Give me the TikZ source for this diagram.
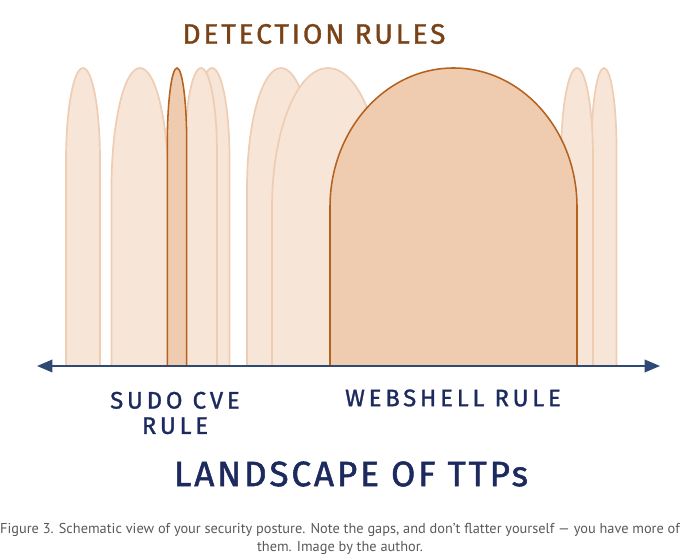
\documentclass[tikz,border=0pt]{standalone}
\usepackage{fontspec}
\setmainfont{Fira Sans}
\newfontfamily\capfont{PT Sans}
\usepackage{tikz}
\usetikzlibrary{arrows.meta}

\definecolor{ruleedge}{HTML}{EFCDB3}
\definecolor{rulefill}{HTML}{F7E5D8}
\definecolor{hitedge}{HTML}{B5621F}
\definecolor{hitfill}{HTML}{EFCCAF}
\definecolor{brownink}{HTML}{7A4217}
\definecolor{navyink}{HTML}{1C2A5E}
\definecolor{axisblue}{HTML}{2E4A74}

\begin{document}
\begin{tikzpicture}[x=0.025cm,y=0.025cm,
  rule/.style={draw=ruleedge,fill=rulefill,line width=1.2pt},
  hit rule/.style={draw=hitedge,fill=hitfill,line width=1.1pt},
  hand label/.style={text=navyink,font=\fontsize{17}{20}\selectfont\addfontfeature{LetterSpace=16,FakeBold=1.2},align=center},
  caption text/.style={text=black!65,font=\capfont\fontsize{10.2}{13.3}\selectfont,align=center}]
  \useasboundingbox (0,0) rectangle (680,560);

  % light arches (other rules)
  \draw[rule] (194.5,194) -- (194.5,402) arc[start angle=180,end angle=0,x radius=17.5,y radius=90] -- (229.5,194) -- cycle;
  \draw[rule] (66,194) -- (66,400) arc[start angle=180,end angle=0,x radius=17,y radius=92] -- (100,194) -- cycle;
  \draw[rule] (111.5,194) -- (111.5,372) arc[start angle=180,end angle=0,x radius=28.5,y radius=120] -- (168.5,194) -- cycle;
  \draw[rule] (185,194) -- (185,407) arc[start angle=180,end angle=0,x radius=16,y radius=85] -- (217,194) -- cycle;
  \draw[rule] (247,194) -- (247,372) arc[start angle=180,end angle=0,x radius=34,y radius=120] -- (315,194) -- cycle;
  \draw[rule] (272,194) -- (272,352) arc[start angle=180,end angle=0,x radius=56,y radius=140] -- (384,194) -- cycle;
  \draw[rule] (591.5,194) -- (591.5,412) arc[start angle=180,end angle=0,x radius=12.5,y radius=80] -- (616.5,194) -- cycle;
  \draw[rule] (561,194) -- (561,402) arc[start angle=180,end angle=0,x radius=16,y radius=90] -- (593,194) -- cycle;

  % highlighted rules
  \draw[hit rule] (167.3,194) -- (167.3,417) arc[start angle=180,end angle=0,x radius=9.7,y radius=75] -- (186.7,194) -- cycle;
  \draw[hit rule] (330,194) -- (330,353) arc[start angle=180,end angle=0,x radius=123.5,y radius=139] -- (577,194) -- cycle;

  % axis
  \coordinate (left end) at (37,194);
  \coordinate (right end) at (660,194);
  \draw[axisblue,line width=1.3pt,{Triangle[length=11pt,width=9pt]}-{Triangle[length=11pt,width=9pt]}] (left end) -- (right end);

  % labels
  \node[text=brownink,font=\fontsize{20}{24}\selectfont\addfontfeature{LetterSpace=10,FakeBold=1.2}] (rules) at (314,526) {DETECTION RULES};
  \node[hand label] (sudo) at (175,147) {SUDO CVE\\[-2pt]RULE};
  \node[hand label] (webshell) at (453,162) {WEBSHELL RULE};
  \node[hand label,font=\fontsize{25}{30}\selectfont\addfontfeature{LetterSpace=8,FakeBold=1.5}] (landscape) at (351,86) {LANDSCAPE OF TTPs};
  \node[caption text] (caption) at (340,21) {Figure 3. Schematic view of your security posture. Note the gaps, and don’t flatter yourself — you have more of\\them. Image by the author.};
\end{tikzpicture}
\end{document}
